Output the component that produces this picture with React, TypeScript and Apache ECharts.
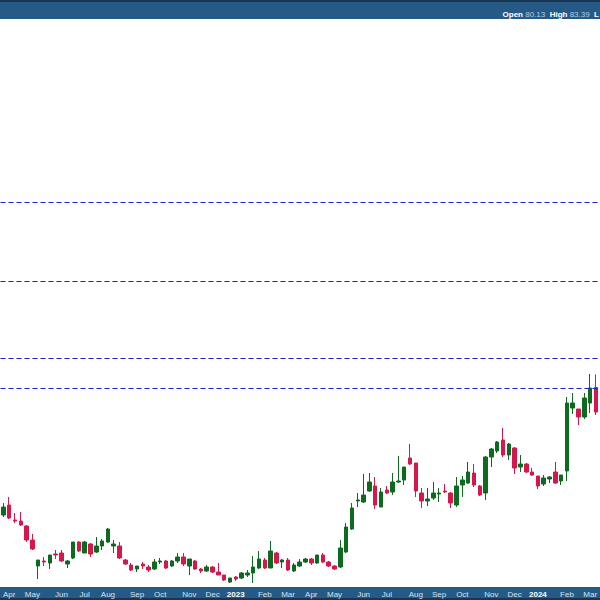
import React, { useEffect, useRef } from "react";
import * as echarts from "echarts";

// Weekly candles (Monday of each week), first week 2022-03-28
const START_WEEK = Date.UTC(2022, 2, 28);
const WEEK_COUNT = 103;
const MONTHS = ["Jan", "Feb", "Mar", "Apr", "May", "Jun", "Jul", "Aug", "Sep", "Oct", "Nov", "Dec"];

// [open, close, low, high]
const weeklyOHLC: number[][] = [
  [48.25, 50.25, 47.75, 51.25], [50.75, 47.5, 47.25, 52.75], [47, 46.75, 46.25, 48.75], [46.75, 45.75, 45.5, 49],
  [45.5, 42, 41.5, 45.75], [42, 39.75, 39.5, 43.5], [35.5, 37, 32.25, 37], [36.75, 36.5, 35.5, 37.75],
  [36.25, 38.25, 34.75, 38.25], [38.5, 38.25, 37.25, 39.5], [38.75, 36.75, 36.5, 39.5], [36, 36.75, 35, 37],
  [37.5, 41.5, 37.25, 41.5], [41.5, 39.25, 39, 41.75], [38.75, 41.5, 38.75, 41.75], [41, 38.5, 37.75, 41.25],
  [39, 40.5, 38.75, 42.75], [40.5, 41.75, 39.5, 42.25], [41.5, 44.75, 41.25, 45], [40.5, 41, 38.75, 42],
  [40.5, 37.5, 37.25, 41.5], [37, 36, 35.75, 37.25], [35.75, 34.5, 34.25, 36.25], [34.75, 35.5, 34, 35.5],
  [36, 35.5, 34.75, 36.5], [35.25, 34.5, 34, 35.75], [34.75, 36.5, 34.5, 37.25], [36.5, 36.75, 36, 37.5],
  [36.75, 35, 34.75, 37], [35.5, 36.75, 35.25, 37], [36.75, 37.75, 36.25, 38.75], [37.75, 36, 35.5, 38.75],
  [35.5, 37.25, 33.25, 37.25], [36.75, 34.75, 34.5, 37], [34.75, 34.25, 33.75, 35], [34.25, 35.25, 34, 35.75],
  [35.25, 34, 33.75, 35.5], [34, 33.25, 33.25, 36.25], [33.25, 32, 31.75, 33.25], [31.5, 32.5, 31.25, 32.5],
  [32.75, 32.25, 31.75, 33], [32.5, 33.75, 32.25, 34], [33.25, 33.75, 32.75, 34.5], [33.75, 35.25, 31.25, 38],
  [35, 37.25, 34.75, 39.25], [37, 35, 34.75, 37.5], [35, 39.25, 35, 41.75], [38.75, 36.25, 36, 39],
  [36.5, 37, 35, 37.25], [37, 34.5, 34.25, 37.5], [34.25, 35.75, 34, 36.25], [35.5, 36.5, 35.25, 37.25],
  [36.5, 37.25, 36.25, 37.5], [37.25, 36.25, 35.75, 37.5], [36.25, 38.25, 36, 38.25], [38.25, 36.5, 36.25, 38.75],
  [36.5, 35.5, 35.25, 36.75], [35.5, 34.75, 34.5, 35.75], [35.25, 40, 35, 42], [39, 45.25, 38.75, 46.25],
  [44.75, 50, 44.5, 51.25], [51.75, 52, 50.25, 53.75], [51.5, 53.25, 51.25, 58.5], [54.25, 56.5, 54, 58.75],
  [55.5, 50.75, 49.75, 57.75], [50.25, 54, 50.25, 55], [54.5, 53.75, 53.5, 55.5], [54, 56.5, 53.25, 58.75],
  [56.5, 56.75, 56.25, 63], [57, 60.25, 55.75, 60.25], [62.5, 61, 60.75, 66], [61.25, 54.25, 52.75, 61.25],
  [53.75, 51.75, 50, 55], [51.75, 52.25, 50.5, 55], [52.5, 53.75, 52, 56.5], [53.5, 53.75, 51.5, 55],
  [54.25, 54, 53.75, 56], [53.75, 51.25, 50, 54], [50.75, 55.5, 50.25, 57.75], [55.75, 57, 52.75, 58],
  [56.25, 59, 56, 61.5], [58.75, 55.75, 55.25, 61], [55.5, 53.25, 53, 55.75], [53.75, 62.75, 52, 63],
  [62.75, 64.75, 60.25, 65], [64.25, 66.5, 63.75, 66.75], [67, 63.25, 62.75, 70], [63.25, 66, 62, 66.25],
  [65, 60, 58.5, 65.25], [60.25, 61, 59, 63.25], [61, 59, 58.75, 61.25], [59, 58.25, 58, 60],
  [58, 55.5, 54.75, 58], [56, 57.5, 55.5, 58.25], [57.25, 57.75, 56.25, 58], [59, 56.25, 56, 61.5],
  [56.75, 58.25, 55.75, 58.25], [59.25, 76.25, 56.75, 77.75], [75, 76.25, 73.5, 78.75], [74.75, 72.75, 70.75, 74.75],
  [72.75, 77.5, 72.25, 78.75], [76.25, 80, 73.75, 83.5], [80.13, 74, 73.25, 83.39],
];

// Horizontal dashed levels
const levels = [126.5, 106.75, 87.5, 80];

const header = { open: "80.13", high: "83.39" };

const Y_MIN = 30.25;
const Y_MAX = 172;

const GREEN = "#0d6b1f";
const RED = "#d4184c";
const BAR = "#245a85";

const weeks: number[] = Array.from({ length: WEEK_COUNT }, (_, i) => START_WEEK + i * 7 * 86400000);
const categories = weeks.map((t) => {
  const d = new Date(t);
  return `${d.getUTCFullYear()}-${String(d.getUTCMonth() + 1).padStart(2, "0")}-${String(d.getUTCDate()).padStart(2, "0")}`;
});

export default function App() {
  const ref = useRef<HTMLDivElement>(null);
  useEffect(() => {
    document.body.style.margin = "0";
    const chart = echarts.init(ref.current!, null, { renderer: "svg" });
    chart.setOption({
      animation: false,
      backgroundColor: "#ffffff",
      grid: { left: -2.6, right: -2, top: 20, bottom: 13 },
      xAxis: {
        type: "category",
        data: categories,
        boundaryGap: true,
        axisLine: { show: false },
        axisTick: { show: false },
        splitLine: { show: false },
        axisLabel: {
          interval: (index: number) => new Date(weeks[index]).getUTCDate() <= 7,
          hideOverlap: false,
          margin: 3,
          fontSize: 8,
          fontFamily: "Liberation Sans",
          color: "#d6e2ee",
          formatter: (v: string) => {
            const [y, m] = v.split("-").map(Number);
            return m === 1 ? `{y|${y}}` : MONTHS[m - 1];
          },
          rich: {
            y: { fontSize: 8, fontWeight: "bold", color: "#ffffff", fontFamily: "Liberation Sans" },
          },
        },
      },
      yAxis: {
        type: "value",
        min: Y_MIN,
        max: Y_MAX,
        show: false,
        splitLine: { show: false },
      },
      series: [
        {
          type: "candlestick",
          data: weeklyOHLC,
          barWidth: 4,
          itemStyle: {
            color: GREEN,
            color0: RED,
            borderColor: GREEN,
            borderColor0: RED,
            borderWidth: 1,
          },
          markLine: {
            silent: true,
            symbol: "none",
            label: { show: false },
            lineStyle: { color: "#1f1fd0", width: 1, type: [5, 3], opacity: 1 },
            data: levels.map((v) => ({ yAxis: v })),
          },
        },
      ],
      graphic: [
        { type: "rect", shape: { x: 0, y: 0, width: 600, height: 19 }, style: { fill: BAR }, z: 10 },
        { type: "rect", shape: { x: 0, y: 0, width: 600, height: 2 }, style: { fill: "#1a3550" }, z: 11 },
        { type: "rect", shape: { x: 0, y: 587, width: 600, height: 13 }, style: { fill: BAR }, z: -1 },
        { type: "rect", shape: { x: 0, y: 598, width: 600, height: 2 }, style: { fill: "#1a3550" }, z: -1 },
        {
          type: "text",
          x: 599,
          y: 14.5,
          z: 12,
          style: {
            text: `{l|Open} {v|${header.open}}  {l|High} {v|${header.high}}  {l|L}`,
            verticalAlign: "middle",
            align: "right",
            fontSize: 8,
            fontFamily: "Liberation Sans",
            rich: {
              l: { fontSize: 8, fontWeight: "bold", fill: "#ffffff", fontFamily: "Liberation Sans" },
              v: { fontSize: 8, fill: "#b9cde0", fontFamily: "Liberation Sans" },
            },
          },
        },
      ],
    });
    return () => chart.dispose();
  }, []);
  return <div ref={ref} style={{ position: "fixed", left: 0, top: 0, width: 600, height: 600 }} />;
}
